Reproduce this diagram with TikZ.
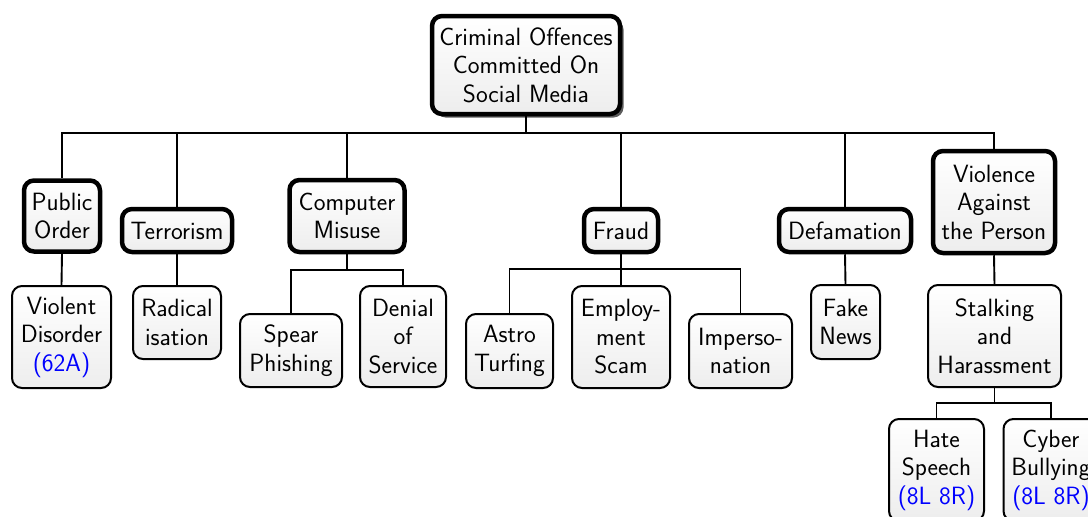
\documentclass[tikz,border=0pt]{standalone}
\usetikzlibrary{shadows}

\tikzset{
  box/.style={draw, rounded corners=10pt, top color=white, bottom color=black!7,
    align=center, inner sep=0pt, line width=2pt,
    font=\sffamily\fontsize{25pt}{28.5pt}\selectfont},
  catbox/.style={box, line width=4.5pt},
  link/.style={line width=1.9pt}
}
\newcommand{\secref}[1]{\textcolor{blue}{#1}}

\begin{document}
\begin{tikzpicture}[x=1pt,y=-1pt]
  \clip (0,0) rectangle (1088,517);
  % root
  \node[catbox, drop shadow={shadow xshift=3.5pt, shadow yshift=-3.5pt, opacity=.8, fill=black!80},
        minimum width=188pt, minimum height=98pt] (root) at (526,65)
        {Criminal Offences\\Committed On\\Social Media};
  % offence categories
  \node[catbox, minimum width=76pt, minimum height=71pt] (pub) at (62,216) {Public\\Order};
  \node[catbox, minimum width=110pt, minimum height=43pt] (terr) at (177,230.5) {Terrorism};
  \node[catbox, minimum width=115pt, minimum height=72pt] (comp) at (347,216) {Computer\\Misuse};
  \node[catbox, minimum width=74pt, minimum height=43pt] (fraud) at (621,230.5) {Fraud};
  \node[catbox, minimum width=132pt, minimum height=43pt] (defam) at (845,230.5) {Defamation};
  \node[catbox, minimum width=122pt, minimum height=102pt] (viol) at (994,202) {Violence\\Against\\the Person};
  % offences
  \node[box, minimum width=99pt, minimum height=102pt] (vdis) at (61.5,337) {Violent\\Disorder\\\secref{(62A)}};
  \node[box, minimum width=88pt, minimum height=73pt] (rad) at (177,322.5) {Radical\\isation};
  \node[box, minimum width=102pt, minimum height=73pt] (spear) at (291,350.5) {Spear\\Phishing};
  \node[box, minimum width=86pt, minimum height=101pt] (dos) at (403,336.5) {Denial\\of\\Service};
  \node[box, minimum width=87pt, minimum height=74pt] (astro) at (509.5,351) {Astro\\Turfing};
  \node[box, minimum width=98pt, minimum height=102pt] (emp) at (621,337) {Employ-\\ment\\Scam};
  \node[box, minimum width=103pt, minimum height=74pt] (imp) at (740.5,351) {Imperso-\\nation};
  \node[box, minimum width=69pt, minimum height=74pt] (fake) at (845.5,322) {Fake\\News};
  \node[box, minimum width=133pt, minimum height=102pt] (stalk) at (994.5,336) {Stalking\\and\\Harassment};
  \node[box, minimum width=95pt, minimum height=102pt] (hate) at (936.5,470) {Hate\\Speech\\\secref{(8L 8R)}};
  \node[box, minimum width=95pt, minimum height=102pt] (cyber) at (1051,470) {Cyber\\Bullying\\\secref{(8L 8R)}};

  % connectors
  \foreach \c in {pub,terr,comp,fraud,defam,viol}
    \draw[link] (root.south) -- ++(0,17) -| (\c.north);
  \draw[link] (pub.south) -- (vdis.north);
  \draw[link] (terr.south) -- (rad.north);
  \foreach \c in {spear,dos}
    \draw[link] (comp.south) -- ++(0,16) -| (\c.north);
  \foreach \c in {astro,emp,imp}
    \draw[link] (fraud.south) -- ++(0,15) -| (\c.north);
  \draw[link] (defam.south) -- (fake.north);
  \draw[link] (viol.south) -- (stalk.north);
  \foreach \c in {hate,cyber}
    \draw[link] (stalk.south) -- ++(0,15) -| (\c.north);
\end{tikzpicture}
\end{document}
